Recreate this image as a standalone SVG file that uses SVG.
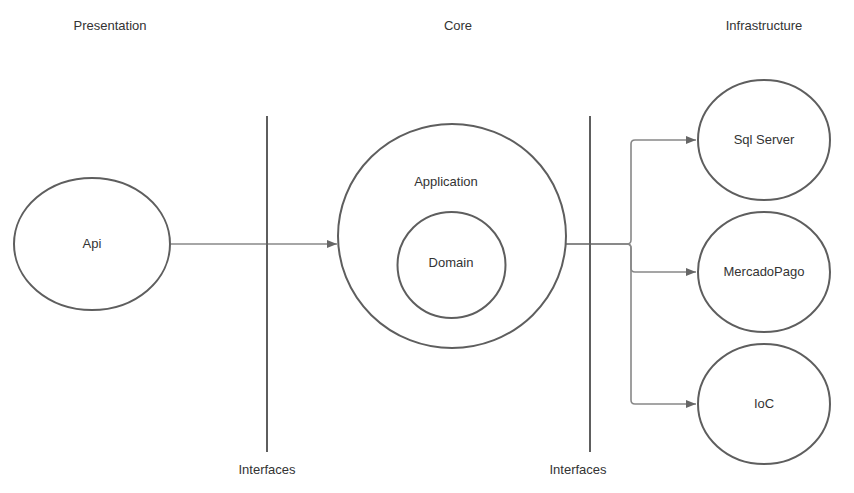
<svg xmlns="http://www.w3.org/2000/svg" width="854" height="493" viewBox="0 0 854 493">
<defs>
<style>
.node{fill:#fff;stroke:#5e5e5e;stroke-width:2}
.bar{stroke:#5e5e5e;stroke-width:2}
.lbl{font-family:"Liberation Sans",Arial,sans-serif;font-size:13px;fill:#333;text-anchor:middle;dominant-baseline:central}
.conn{fill:none;stroke:#888;stroke-width:1.6}
</style>
<marker id="arr" markerWidth="10" markerHeight="8" refX="10" refY="4" orient="auto" markerUnits="userSpaceOnUse">
<path d="M0,0 L10,4 L0,8 Z" fill="#666"/>
</marker>
</defs>
<rect width="854" height="493" fill="#fff"/>
<text class="lbl" x="110" y="25">Presentation</text>
<text class="lbl" x="458" y="25">Core</text>
<text class="lbl" x="764" y="25">Infrastructure</text>
<g id="connectors">
<path class="conn" d="M171,244 L337,244" marker-end="url(#arr)"/>
<path class="conn" d="M566,244 L627,244 Q631,244 631,240 L631,144 Q631,140 635,140 L696,140" marker-end="url(#arr)"/>
<path class="conn" d="M566,244 L627,244 Q631,244 631,248 L631,268 Q631,272 635,272 L696,272" marker-end="url(#arr)"/>
<path class="conn" d="M566,244 L627,244 Q631,244 631,248 L631,400 Q631,404 635,404 L696,404" marker-end="url(#arr)"/>
</g>
<g id="interfaces-left">
<line class="bar" x1="267" y1="116" x2="267" y2="452"/>
<text class="lbl" x="267" y="469">Interfaces</text>
</g>
<g id="interfaces-right">
<line class="bar" x1="590" y1="116" x2="590" y2="452"/>
<text class="lbl" x="578" y="469">Interfaces</text>
</g>
<g id="api">
<ellipse class="node" cx="92" cy="244" rx="78" ry="66"/>
<text class="lbl" x="92" y="243">Api</text>
</g>
<g id="application">
<ellipse class="node" cx="452" cy="236" rx="114" ry="112"/>
<text class="lbl" x="446" y="181">Application</text>
</g>
<g id="domain">
<ellipse class="node" cx="451.5" cy="265" rx="54" ry="53"/>
<text class="lbl" x="451" y="262">Domain</text>
</g>
<g id="sqlserver">
<ellipse class="node" cx="764" cy="140" rx="66" ry="60"/>
<text class="lbl" x="764" y="139">Sql Server</text>
</g>
<g id="mercadopago">
<ellipse class="node" cx="764" cy="272" rx="66" ry="60"/>
<text class="lbl" x="764" y="271">MercadoPago</text>
</g>
<g id="ioc">
<ellipse class="node" cx="764" cy="404" rx="66" ry="60"/>
<text class="lbl" x="764" y="403">IoC</text>
</g>
</svg>
